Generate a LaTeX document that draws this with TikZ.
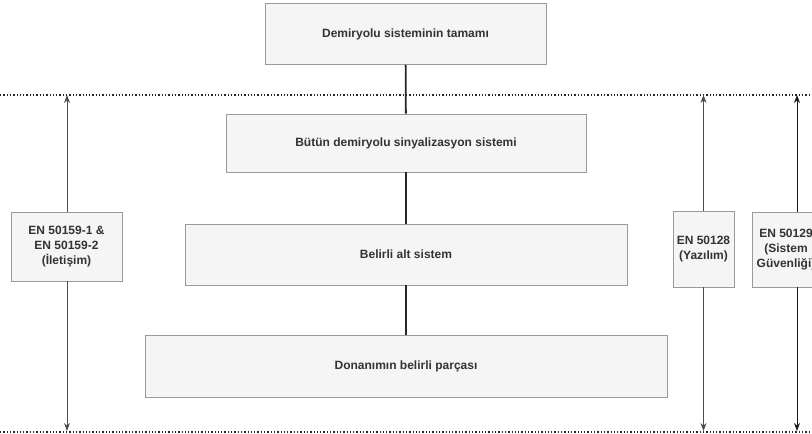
\documentclass[tikz,border=0pt]{standalone}
\usepackage{fontspec}
\setmainfont{Liberation Sans}
\usetikzlibrary{arrows.meta}
\definecolor{boxfill}{HTML}{F5F5F5}
\definecolor{boxline}{HTML}{9A9A9A}
\definecolor{txt}{HTML}{333333}
\tikzset{
  mbox/.style={draw=boxline, fill=boxfill, line width=0.9pt, inner sep=0pt, align=center,
    font=\fontsize{12}{15}\selectfont\bfseries, text=txt},
  link/.style={line width=1.8pt, draw=black!85},
  spanarrow/.style={line width=0.9pt, draw=black!70, -{Stealth[length=8pt,width=6pt]}},
  sepline/.style={line width=1.3pt, dotted, draw=black!85}
}
\begin{document}
\begin{tikzpicture}[x=1pt,y=-1pt]
\useasboundingbox (0,0) rectangle (812,434);
\begin{scope}
\clip (0,0) rectangle (812,434);
% separators
\coordinate (tl) at (0,95);
\coordinate (tr) at (812,95);
\coordinate (bl) at (0,432);
\coordinate (br) at (812,432);
\draw[sepline] (tl) -- (tr);
\draw[sepline] (bl) -- (br);
% main boxes
\node[mbox, minimum width=281pt, minimum height=61pt] (a) at (405.5,34) {Demiryolu sisteminin tamamı};
\node[mbox, minimum width=360pt, minimum height=58pt] (b) at (406,143) {Bütün demiryolu sinyalizasyon sistemi};
\node[mbox, minimum width=442pt, minimum height=61pt] (c) at (406,254.5) {Belirli alt sistem};
\node[mbox, minimum width=522pt, minimum height=62pt] (d) at (406,366) {Donanımın belirli parçası};
\draw[link] (a) -- (b);
\draw[link] (b) -- (c);
\draw[link] (c) -- (d);
% standard boxes
\node[mbox, minimum width=111pt, minimum height=69pt] (l) at (66.5,246.5) {EN 50159-1 \&\\EN 50159-2\\(İletişim)};
\node[mbox, minimum width=61pt, minimum height=76pt] (m) at (703.5,249) {EN 50128\\(Yazılım)};
\node[mbox, minimum width=68pt, minimum height=75pt] (r) at (786,249.5) {EN 50129\\(Sistem\\Güvenliği)};
\coordinate (lt) at (67,95);
\coordinate (lb) at (67,431);
\coordinate (mt) at (703.5,95);
\coordinate (mb) at (703.5,431);
\coordinate (rt) at (797,95);
\coordinate (rb) at (797,431);
\draw[spanarrow] (l.north -| lt) -- (lt);
\draw[spanarrow] (l.south -| lb) -- (lb);
\draw[spanarrow] (m.north) -- (mt);
\draw[spanarrow] (m.south) -- (mb);
\draw[spanarrow, draw=black!90] (r.north -| rt) -- (rt);
\draw[spanarrow, draw=black!90] (r.south -| rb) -- (rb);
\end{scope}
\end{tikzpicture}
\end{document}
